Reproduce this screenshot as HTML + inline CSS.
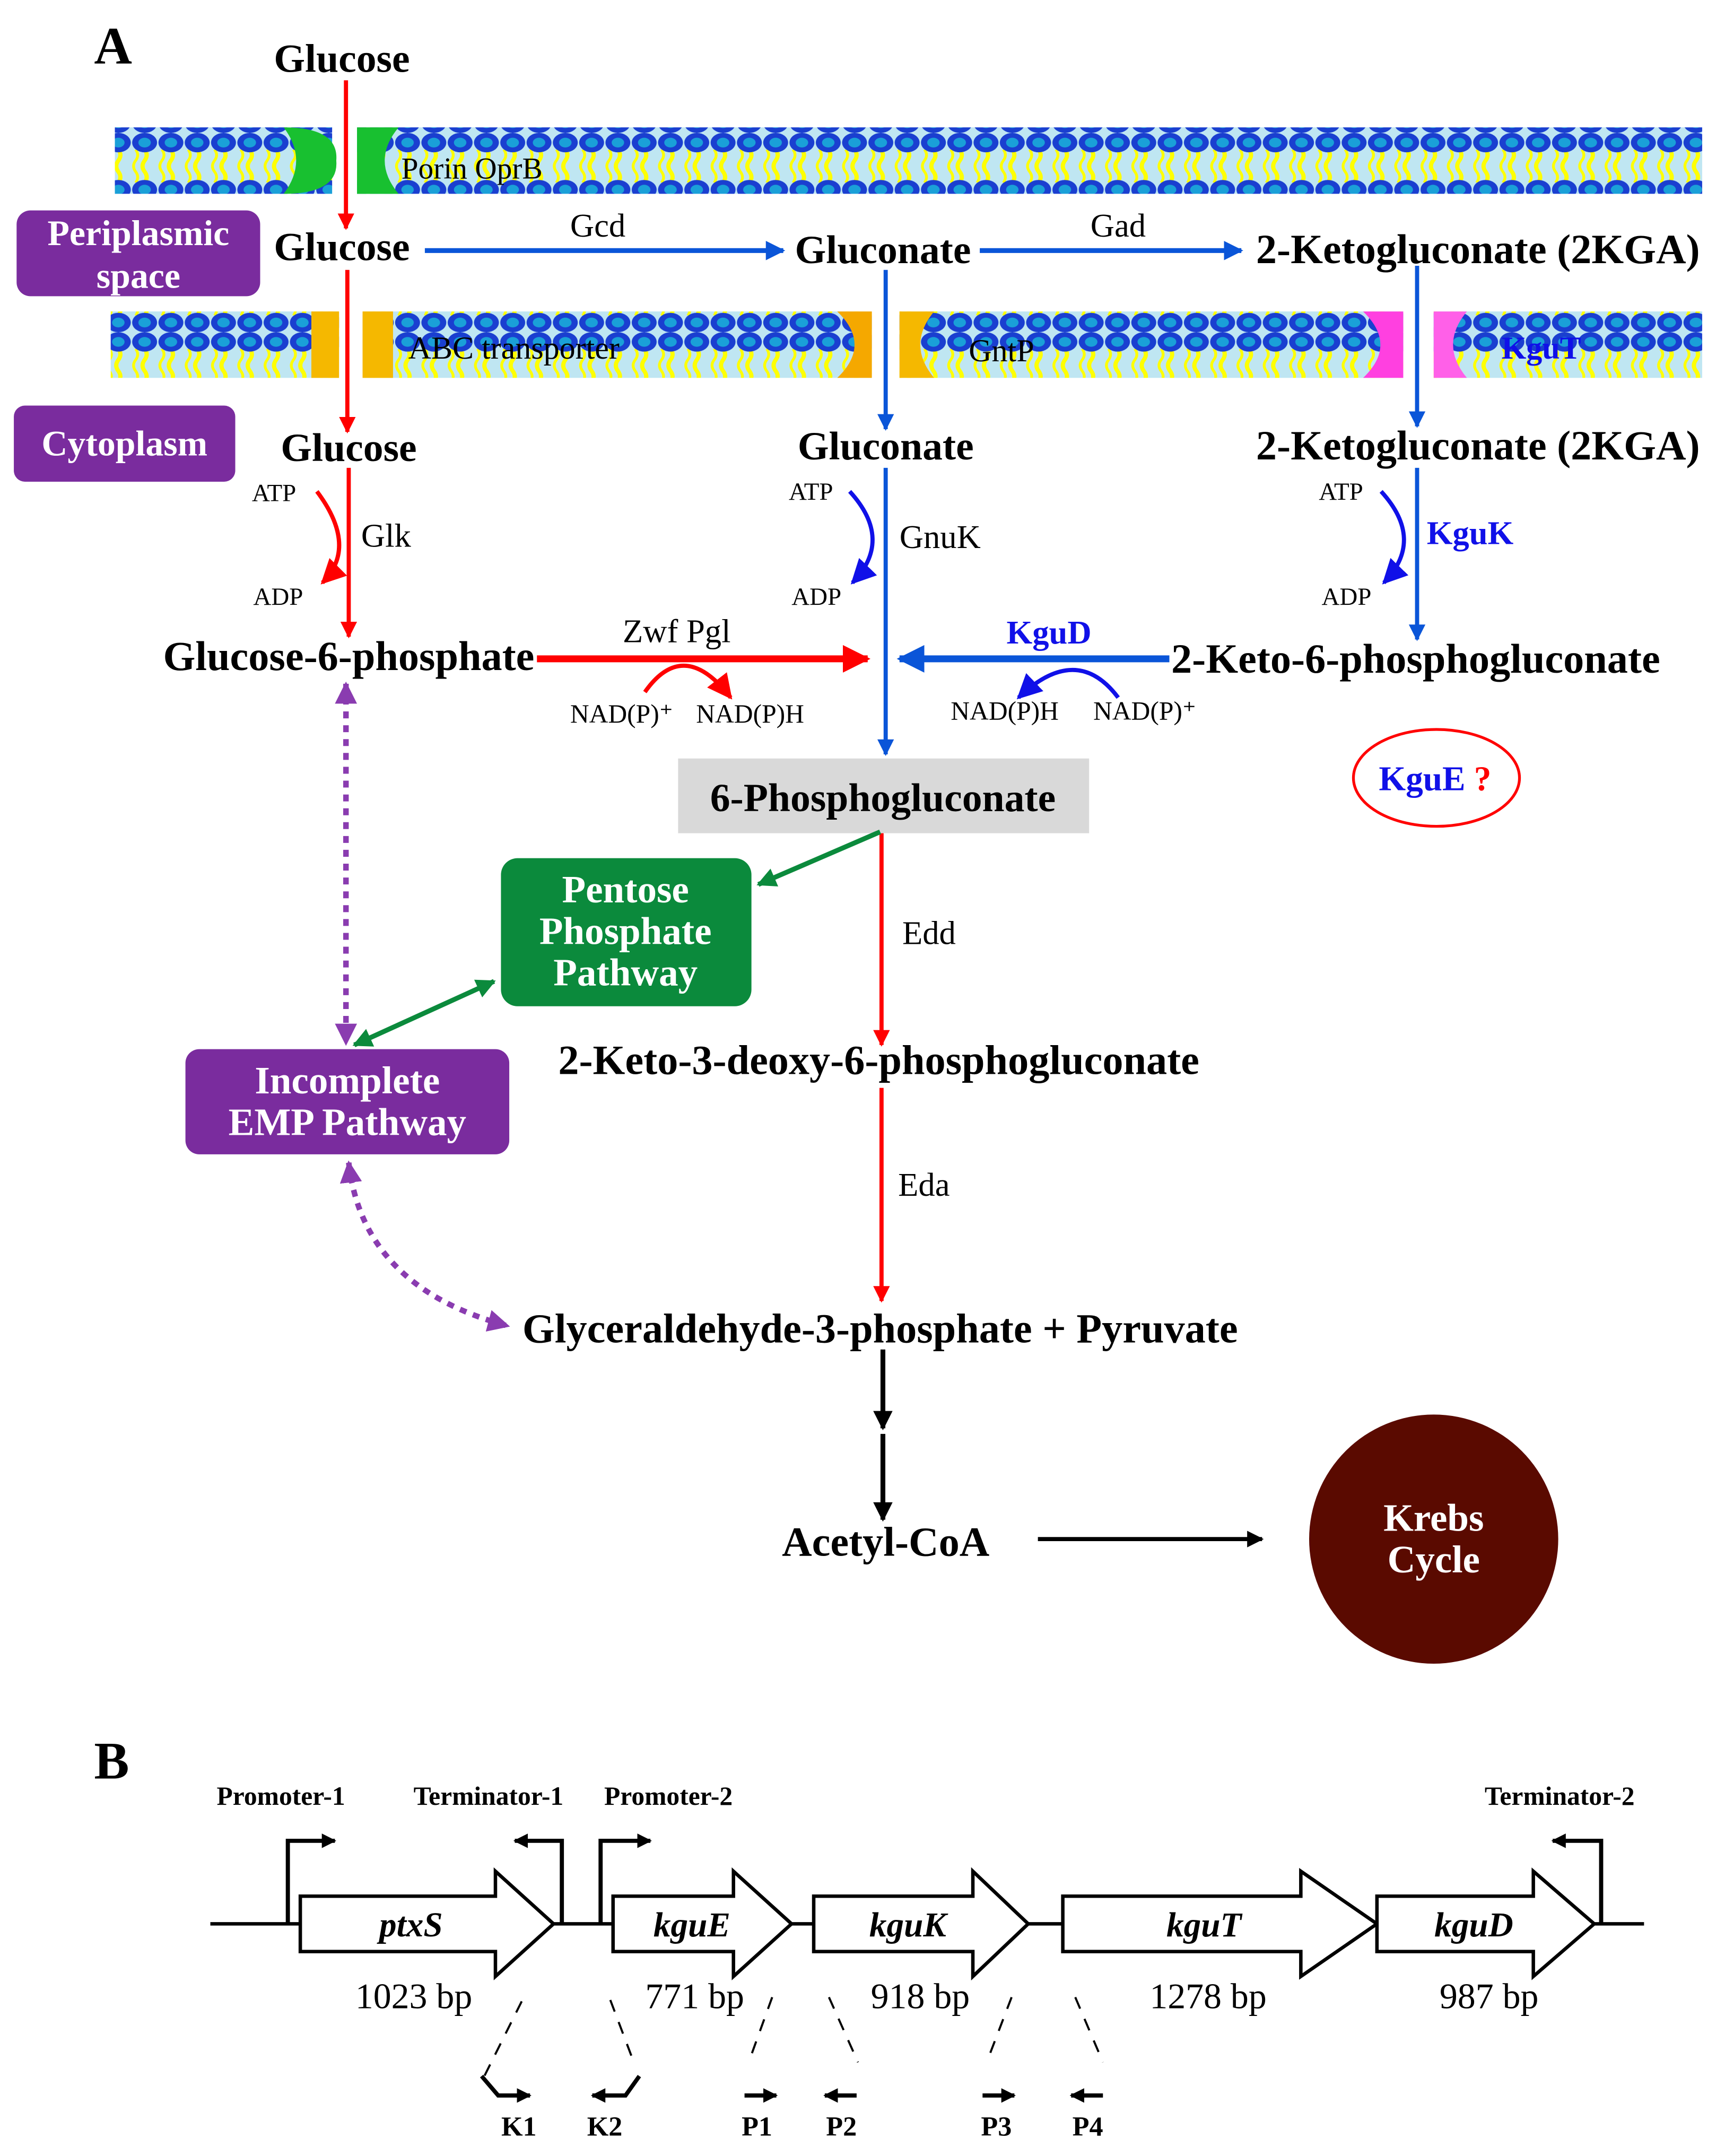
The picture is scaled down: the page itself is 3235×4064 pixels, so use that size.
<!DOCTYPE html>
<html><head><meta charset="utf-8"><style>
html,body{margin:0;padding:0;background:#fff}
svg{display:block}
text{font-family:"Liberation Serif",serif}
.b{font-weight:bold}
</style></head><body>
<svg width="3235" height="4064" viewBox="0 0 1240 1557.7" xmlns="http://www.w3.org/2000/svg">
<defs>
<pattern id="mem" x="0" y="0" width="19" height="48" patternUnits="userSpaceOnUse">
<rect width="19" height="48" fill="#bfe6f2"/>
<path d="M9.5 12 q3 4 0 8 q-3 4 0 8 q3 4 0 8" stroke="#ffff00" stroke-width="3" fill="none"/>
<path d="M3 12 q3 4 0 8 q-3 4 0 8 q3 4 0 8" stroke="#ffff00" stroke-width="2" fill="none"/>
<ellipse cx="9.5" cy="7" rx="9" ry="7" fill="#1a3fd0"/>
<ellipse cx="9.5" cy="7" rx="4.5" ry="3.5" fill="#1aa0d8"/>
<ellipse cx="9.5" cy="41" rx="9" ry="7" fill="#1a3fd0"/>
<ellipse cx="9.5" cy="41" rx="4.5" ry="3.5" fill="#1aa0d8"/>
</pattern>
<marker id="ar" viewBox="0 0 10 10" refX="9" refY="5" markerWidth="4" markerHeight="4" orient="auto" markerUnits="strokeWidth"><path d="M0 0L10 5L0 10z" fill="#f00"/></marker>
<marker id="ab" viewBox="0 0 10 10" refX="9" refY="5" markerWidth="4" markerHeight="4" orient="auto" markerUnits="strokeWidth"><path d="M0 0L10 5L0 10z" fill="#0a55d8"/></marker>
<marker id="ak" viewBox="0 0 10 10" refX="9" refY="5" markerWidth="4" markerHeight="4" orient="auto" markerUnits="strokeWidth"><path d="M0 0L10 5L0 10z" fill="#000"/></marker>
<marker id="ag" viewBox="0 0 10 10" refX="9" refY="5" markerWidth="4" markerHeight="4" orient="auto-start-reverse" markerUnits="strokeWidth"><path d="M0 0L10 5L0 10z" fill="#0b8a3c"/></marker>
<marker id="ap" viewBox="0 0 10 10" refX="9" refY="5" markerWidth="4" markerHeight="4" orient="auto-start-reverse" markerUnits="strokeWidth"><path d="M0 0L10 5L0 10z" fill="#8a3cb0"/></marker>
<marker id="ar2" viewBox="0 0 10 10" refX="9" refY="5" markerWidth="6" markerHeight="6" orient="auto" markerUnits="strokeWidth"><path d="M0 0L10 5L0 10z" fill="#f00"/></marker>
<marker id="ab2" viewBox="0 0 10 10" refX="9" refY="5" markerWidth="6" markerHeight="6" orient="auto" markerUnits="strokeWidth"><path d="M0 0L10 5L0 10z" fill="#1010e8"/></marker>
<marker id="sk" viewBox="0 0 10 10" refX="9" refY="5" markerWidth="3.5" markerHeight="3.5" orient="auto" markerUnits="strokeWidth"><path d="M0 0L10 5L0 10z" fill="#000"/></marker>
</defs>

<text x="68" y="46" class="b" font-size="38">A</text>

<!-- membranes -->
<rect x="83" y="92" width="1147" height="48" fill="url(#mem)"/>
<rect x="240" y="90" width="18" height="52" fill="#fff"/>
<path d="M205 92 q40 0 38 24 q2 24 -38 24 q18 -24 0 -48z" fill="#18c030"/>
<path d="M258 92 h30 q-20 24 0 48 h-30z" fill="#18c030"/>
<text x="290" y="129" font-size="22">Porin OprB</text>

<rect x="80" y="225" width="1150" height="48" fill="url(#mem)"/>
<rect x="245" y="223" width="17" height="52" fill="#fff"/>
<rect x="630" y="223" width="20" height="52" fill="#fff"/>
<rect x="1014" y="223" width="22" height="52" fill="#fff"/>
<rect x="225" y="225" width="20" height="48" fill="#f5b800"/>
<rect x="262" y="225" width="22" height="48" fill="#f5b800"/>
<path d="M605 225 q25 24 0 48 h25 v-48z" fill="#f5a800"/>
<path d="M650 225 v48 h25 q-20 -24 0 -48z" fill="#f5b800"/>
<path d="M985 225 q25 24 0 48 h29 v-48z" fill="#ff40e0"/>
<path d="M1036 225 v48 h24 q-20 -24 0 -48z" fill="#ff60e8"/>
<text x="295" y="259" font-size="23">ABC transporter</text>
<text x="700" y="261" font-size="23">GntP</text>
<text x="1085" y="259" font-size="23" fill="#1010e8" class="b">KguT</text>

<!-- boxes -->
<rect x="12" y="152" width="176" height="62" rx="10" fill="#7a2c9e"/>
<text x="100" y="177" font-size="26" fill="#fff" class="b" text-anchor="middle">Periplasmic</text>
<text x="100" y="208" font-size="26" fill="#fff" class="b" text-anchor="middle">space</text>
<rect x="10" y="293" width="160" height="55" rx="8" fill="#7a2c9e"/>
<text x="90" y="329" font-size="26" fill="#fff" class="b" text-anchor="middle">Cytoplasm</text>

<!-- glucose path -->
<text x="247" y="52" font-size="29" class="b" text-anchor="middle">Glucose</text>
<line x1="250" y1="58" x2="250" y2="165" stroke="#f00" stroke-width="3" marker-end="url(#ar)"/>
<text x="247" y="188" font-size="29" class="b" text-anchor="middle">Glucose</text>
<line x1="251" y1="195" x2="251" y2="312" stroke="#f00" stroke-width="3" marker-end="url(#ar)"/>
<text x="252" y="333" font-size="29" class="b" text-anchor="middle">Glucose</text>
<line x1="252" y1="338" x2="252" y2="460" stroke="#f00" stroke-width="3" marker-end="url(#ar)"/>
<text x="182" y="362" font-size="18">ATP</text>
<text x="183" y="437" font-size="18">ADP</text>
<path d="M229 355 q30 40 4 66" stroke="#f00" stroke-width="3" fill="none" marker-end="url(#ar2)"/>
<text x="261" y="395" font-size="24">Glk</text>

<!-- gluconate -->
<line x1="307" y1="181" x2="566" y2="181" stroke="#0a55d8" stroke-width="3.5" marker-end="url(#ab)"/>
<text x="432" y="171" font-size="24" text-anchor="middle">Gcd</text>
<text x="638" y="190" font-size="29" class="b" text-anchor="middle">Gluconate</text>
<line x1="708" y1="181" x2="897" y2="181" stroke="#0a55d8" stroke-width="3.5" marker-end="url(#ab)"/>
<text x="808" y="171" font-size="24" text-anchor="middle">Gad</text>
<text x="1068" y="190" font-size="30" class="b" text-anchor="middle">2-Ketogluconate (2KGA)</text>
<line x1="640" y1="195" x2="640" y2="310" stroke="#0a55d8" stroke-width="3" marker-end="url(#ab)"/>
<text x="640" y="332" font-size="29" class="b" text-anchor="middle">Gluconate</text>
<line x1="640" y1="338" x2="640" y2="545" stroke="#0a55d8" stroke-width="3" marker-end="url(#ab)"/>
<text x="570" y="361" font-size="18">ATP</text>
<text x="572" y="437" font-size="18">ADP</text>
<path d="M614 355 q32 35 2 66" stroke="#1010e8" stroke-width="3" fill="none" marker-end="url(#ab2)"/>
<text x="650" y="396" font-size="24">GnuK</text>

<line x1="1024" y1="192" x2="1024" y2="308" stroke="#0a55d8" stroke-width="3" marker-end="url(#ab)"/>
<text x="1068" y="332" font-size="30" class="b" text-anchor="middle">2-Ketogluconate (2KGA)</text>
<line x1="1024" y1="338" x2="1024" y2="462" stroke="#0a55d8" stroke-width="3" marker-end="url(#ab)"/>
<text x="953" y="361" font-size="18">ATP</text>
<text x="955" y="437" font-size="18">ADP</text>
<path d="M998 355 q32 35 2 66" stroke="#1010e8" stroke-width="3" fill="none" marker-end="url(#ab2)"/>
<text x="1031" y="393" font-size="24" class="b" fill="#1010e8">KguK</text>

<!-- G6P row -->
<text x="252" y="484" font-size="30" class="b" text-anchor="middle">Glucose-6-phosphate</text>
<line x1="388" y1="476" x2="627" y2="476" stroke="#f00" stroke-width="5" marker-end="url(#ar)"/>
<text x="489" y="464" font-size="24" text-anchor="middle">Zwf  Pgl</text>
<path d="M466 500 q28 -40 62 4" stroke="#f00" stroke-width="3" fill="none" marker-end="url(#ar2)"/>
<text x="412" y="522" font-size="19">NAD(P)⁺</text>
<text x="503" y="522" font-size="19">NAD(P)H</text>
<line x1="845" y1="476" x2="650" y2="476" stroke="#0a55d8" stroke-width="5" marker-end="url(#ab)"/>
<text x="758" y="465" font-size="24" class="b" fill="#1010e8" text-anchor="middle">KguD</text>
<path d="M808 504 q-30 -40 -72 0" stroke="#1010e8" stroke-width="3" fill="none" marker-end="url(#ab2)"/>
<text x="687" y="520" font-size="19">NAD(P)H</text>
<text x="790" y="520" font-size="19">NAD(P)⁺</text>
<text x="1023" y="486" font-size="30" class="b" text-anchor="middle">2-Keto-6-phosphogluconate</text>

<ellipse cx="1038" cy="562" rx="60" ry="35" fill="none" stroke="#f00" stroke-width="2"/>
<text x="1037" y="571" font-size="25" class="b" text-anchor="middle"><tspan fill="#1010e8">KguE</tspan><tspan fill="#f00"> ?</tspan></text>

<rect x="490" y="548" width="297" height="54" fill="#d9d9d9"/>
<text x="638" y="586" font-size="29" class="b" text-anchor="middle">6-Phosphogluconate</text>

<line x1="637" y1="602" x2="637" y2="755" stroke="#f00" stroke-width="3" marker-end="url(#ar)"/>
<text x="652" y="682" font-size="24">Edd</text>
<line x1="636" y1="601" x2="548" y2="639" stroke="#0b8a3c" stroke-width="3.5" marker-end="url(#ag)"/>

<rect x="362" y="620" width="181" height="107" rx="12" fill="#0b8a3c"/>
<text x="452" y="652" font-size="28" fill="#fff" class="b" text-anchor="middle">Pentose</text>
<text x="452" y="682" font-size="28" fill="#fff" class="b" text-anchor="middle">Phosphate</text>
<text x="452" y="712" font-size="28" fill="#fff" class="b" text-anchor="middle">Pathway</text>
<line x1="256" y1="755" x2="357" y2="709" stroke="#0b8a3c" stroke-width="3.5" marker-start="url(#ag)" marker-end="url(#ag)"/>

<line x1="250" y1="494" x2="250" y2="754" stroke="#8a3cb0" stroke-width="4" stroke-dasharray="5,5" marker-start="url(#ap)" marker-end="url(#ap)"/>
<rect x="134" y="758" width="234" height="76" rx="10" fill="#7a2c9e"/>
<text x="251" y="790" font-size="28" fill="#fff" class="b" text-anchor="middle">Incomplete</text>
<text x="251" y="820" font-size="28" fill="#fff" class="b" text-anchor="middle">EMP Pathway</text>
<path d="M252 840 q10 90 115 118" stroke="#8a3cb0" stroke-width="4" stroke-dasharray="5,5" fill="none" marker-start="url(#ap)" marker-end="url(#ap)"/>

<text x="635" y="776" font-size="30" class="b" text-anchor="middle">2-Keto-3-deoxy-6-phosphogluconate</text>
<line x1="637" y1="786" x2="637" y2="940" stroke="#f00" stroke-width="3" marker-end="url(#ar)"/>
<text x="649" y="864" font-size="24">Eda</text>
<text x="636" y="970" font-size="30" class="b" text-anchor="middle">Glyceraldehyde-3-phosphate + Pyruvate</text>
<line x1="638" y1="975" x2="638" y2="1032" stroke="#000" stroke-width="3.5" marker-end="url(#ak)"/>
<line x1="638" y1="1036" x2="638" y2="1098" stroke="#000" stroke-width="3.5" marker-end="url(#ak)"/>
<text x="640" y="1124" font-size="30" class="b" text-anchor="middle">Acetyl-CoA</text>
<line x1="750" y1="1112" x2="912" y2="1112" stroke="#000" stroke-width="3" marker-end="url(#ak)"/>
<circle cx="1036" cy="1112" r="90" fill="#5a0a00"/>
<text x="1036" y="1106" font-size="28" fill="#fff" class="b" text-anchor="middle">Krebs</text>
<text x="1036" y="1136" font-size="28" fill="#fff" class="b" text-anchor="middle">Cycle</text>

<!-- B -->
<text x="68" y="1285" class="b" font-size="38">B</text>
<text x="203" y="1304" font-size="19" class="b" text-anchor="middle">Promoter-1</text>
<text x="353" y="1304" font-size="19" class="b" text-anchor="middle">Terminator-1</text>
<text x="483" y="1304" font-size="19" class="b" text-anchor="middle">Promoter-2</text>
<text x="1127" y="1304" font-size="19" class="b" text-anchor="middle">Terminator-2</text>
<line x1="152" y1="1390" x2="1188" y2="1390" stroke="#000" stroke-width="2.5"/>
<g stroke="#000" stroke-width="2.5" fill="#fff">
<path d="M217 1370 H358 V1352 L400 1390 L358 1428 V1410 H217Z"/>
<path d="M443 1370 H530 V1352 L572 1390 L530 1428 V1410 H443Z"/>
<path d="M588 1370 H703 V1352 L743 1390 L703 1428 V1410 H588Z"/>
<path d="M768 1370 H940 V1352 L995 1390 L940 1428 V1410 H768Z"/>
<path d="M995 1370 H1108 V1352 L1152 1390 L1108 1428 V1410 H995Z"/>
</g>
<g stroke="#000" stroke-width="3" fill="none">
<path d="M208 1390 V1330 H242" marker-end="url(#sk)"/>
<path d="M406 1390 V1330 H372" marker-end="url(#sk)"/>
<path d="M434 1390 V1330 H470" marker-end="url(#sk)"/>
<path d="M1157 1390 V1330 H1122" marker-end="url(#sk)"/>
</g>
<g font-size="25" font-style="italic" class="b" text-anchor="middle">
<text x="297" y="1399">ptxS</text><text x="500" y="1399">kguE</text><text x="656" y="1399">kguK</text><text x="870" y="1399">kguT</text><text x="1065" y="1399">kguD</text>
</g>
<g font-size="26" text-anchor="middle">
<text x="299" y="1451">1023 bp</text><text x="502" y="1451">771 bp</text><text x="665" y="1451">918 bp</text><text x="873" y="1451">1278 bp</text><text x="1076" y="1451">987 bp</text>
</g>
<g stroke="#000" stroke-width="1.5" stroke-dasharray="9,8" fill="none">
<line x1="377" y1="1446" x2="350" y2="1500"/>
<line x1="441" y1="1445" x2="458" y2="1490"/>
<line x1="558" y1="1443" x2="541" y2="1490"/>
<line x1="599" y1="1443" x2="620" y2="1490"/>
<line x1="731" y1="1443" x2="713" y2="1490"/>
<line x1="777" y1="1443" x2="797" y2="1490"/>
</g>
<g stroke="#000" stroke-width="3" fill="none">
<path d="M348 1500 L360 1514 H383" marker-end="url(#sk)"/>
<path d="M462 1500 L452 1514 H428" marker-end="url(#sk)"/>
<path d="M538 1514 H561" marker-end="url(#sk)"/>
<path d="M619 1514 H596" marker-end="url(#sk)"/>
<path d="M710 1514 H733" marker-end="url(#sk)"/>
<path d="M797 1514 H774" marker-end="url(#sk)"/>
</g>
<g font-size="20" class="b" text-anchor="middle">
<text x="375" y="1543">K1</text><text x="437" y="1543">K2</text><text x="547" y="1543">P1</text><text x="608" y="1543">P2</text><text x="720" y="1543">P3</text><text x="786" y="1543">P4</text>
</g>
</svg>
</body></html>
